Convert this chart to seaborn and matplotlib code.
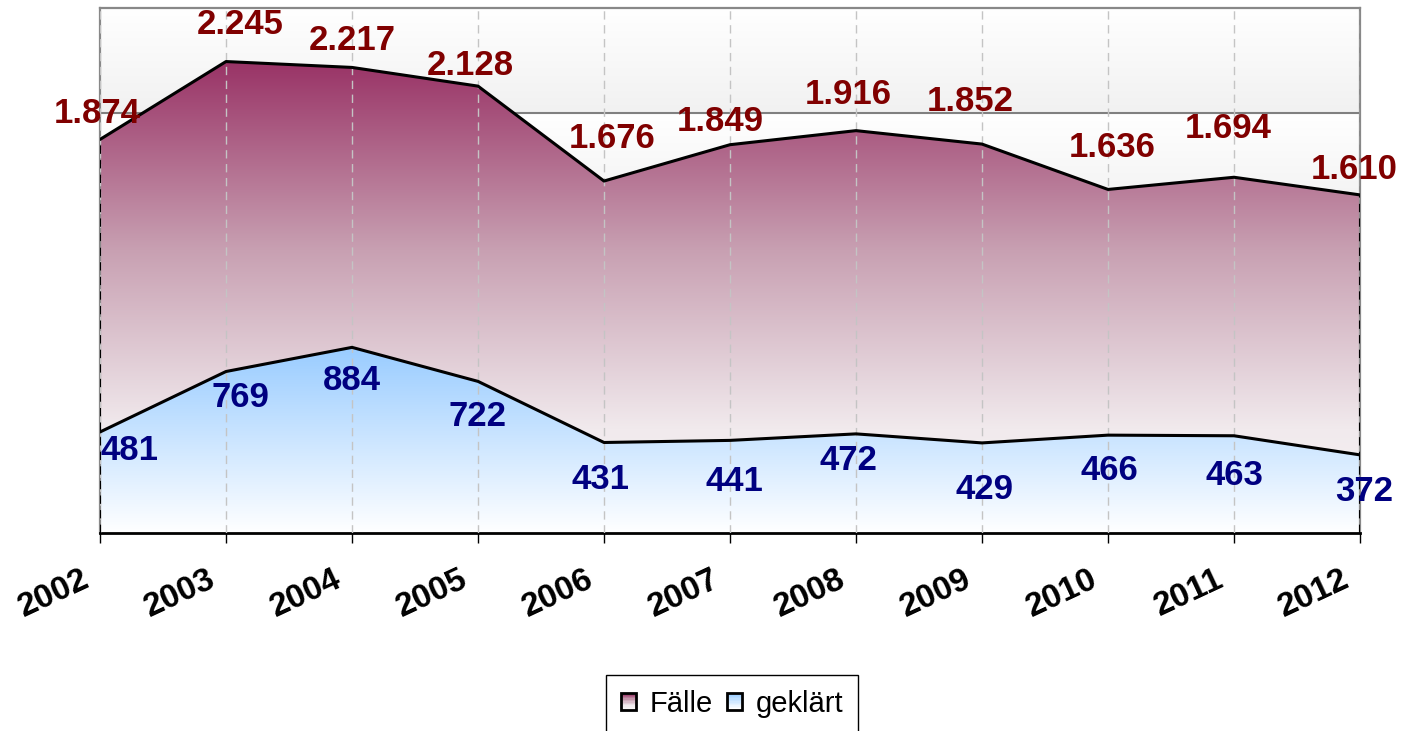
import numpy as np
import pandas as pd
import matplotlib
matplotlib.use('Agg')
import matplotlib.pyplot as plt
import matplotlib.transforms as mtransforms
import seaborn as sns
from matplotlib.colors import LinearSegmentedColormap
from matplotlib.patches import Rectangle, Patch
from matplotlib.legend_handler import HandlerBase

# data
years = [2002, 2003, 2004, 2005, 2006, 2007, 2008, 2009, 2010, 2011, 2012]
faelle = [1874, 2245, 2217, 2128, 1676, 1849, 1916, 1852, 1636, 1694, 1610]
geklaert = [481, 769, 884, 722, 431, 441, 472, 429, 466, 463, 372]
series_names = ['Fälle', 'geklärt']

# label offsets in pixels (label centre relative to the point)
faelle_offsets = [(-3, 26), (14, 37), (0, 27), (-8, 21), (8, 43), (-10, 23),
                  (-8, 36), (-12, 43), (4, 42), (-6, 49), (-6, 25)]
geklaert_offsets = [(30, -19), (14, -26), (0, -33), (0, -35), (-3, -37), (4, -41),
                    (-8, -27), (3, -47), (1, -35), (0, -40), (4, -37)]


def de_format(v):
    # german thousands separator
    return f"{v:,}".replace(',', '.')


class GradientHandler(HandlerBase):
    # legend square with vertical gradient + black border
    def __init__(self, cmap):
        super().__init__()
        self.cmap = cmap

    def create_artists(self, legend, orig_handle, xdescent, ydescent, width, height, fontsize, trans):
        arts = []
        n = 12
        for i in range(n):
            r = Rectangle((-xdescent, -ydescent + height * i / n), width, height / n,
                          facecolor=self.cmap(i / (n - 1)), lw=0, transform=trans)
            arts.append(r)
        arts.append(Rectangle((-xdescent, -ydescent), width, height, fill=False,
                              edgecolor='black', lw=2, transform=trans))
        return arts


sns.set_style('white')
plt.rcParams['font.family'] = ['Liberation Sans', 'DejaVu Sans']
plt.rcParams['text.color'] = 'black'

cmap_f = LinearSegmentedColormap.from_list(
    'faelle', [(0, '#f8f5f6'), (0.22, '#f1eaed'), (0.6, '#c8a0b2'), (1, '#993366')])
cmap_g = LinearSegmentedColormap.from_list('geklaert', ['#ffffff', '#99ccff'])
cmap_bg = LinearSegmentedColormap.from_list('bg', ['#f1f1f1', '#ffffff'])

df = pd.DataFrame({
    'Jahr': years * 2,
    'Anzahl': faelle + geklaert,
    'Serie': [series_names[0]] * len(years) + [series_names[1]] * len(years),
})

fig = plt.figure(figsize=(14.04, 7.31), dpi=100)
ax = fig.add_axes([100 / 1404, 198 / 731, 1260 / 1404, 525 / 731])

# plot area background, gradient per 500 band
ymax = 2500
yy = np.linspace(0, ymax, 1001)
band = 1 - ((ymax - yy) % 500) / 500
ax.imshow(band.reshape(-1, 1), origin='lower', aspect='auto', cmap=cmap_bg,
          extent=[years[0], years[-1], 0, ymax], zorder=0, vmin=0, vmax=1)
ax.axhline(2000, color='#808080', lw=1.5, zorder=1)

# gradient areas clipped to the fill polygons
for vals, cm, z in [(faelle, cmap_f, 1.2), (geklaert, cmap_g, 1.4)]:
    poly = ax.fill_between(years, 0, vals, facecolor='none', edgecolor='none')
    grad = np.linspace(0, 1, 256).reshape(-1, 1)
    im = ax.imshow(grad, origin='lower', aspect='auto', cmap=cm,
                   extent=[years[0], years[-1], 0, max(vals)], zorder=z)
    im.set_clip_path(poly.get_paths()[0], transform=ax.transData)

# outlines
sns.lineplot(data=df, x='Jahr', y='Anzahl', hue='Serie',
             palette={series_names[0]: 'black', series_names[1]: 'black'},
             linewidth=2.2, legend=False, ax=ax, zorder=3)
ax.vlines([years[0], years[-1]], 0, [faelle[0], faelle[-1]], colors='black',
          linestyles=(0, (4, 3)), lw=1.5, zorder=3)

ax.set_xlim(years[0], years[-1])
ax.set_ylim(0, ymax)
ax.set_xlabel('')
ax.set_ylabel('')
ax.set_yticks([])

# vertical dashed grid
ax.set_axisbelow(False)
ax.xaxis.grid(True, color='#c4c4c4', linestyle=(0, (6, 4)), lw=1)

for side in ['top', 'left', 'right']:
    ax.spines[side].set_color('#888888')
    ax.spines[side].set_linewidth(1.6)
ax.spines['bottom'].set_color('black')
ax.spines['bottom'].set_linewidth(2)

ax.set_xticks(years)
ax.set_xticklabels([str(y) for y in years], fontsize=24, fontweight='bold', color='black',
                   rotation=25, ha='right', rotation_mode='anchor')
ax.tick_params(axis='x', direction='out', length=7, width=1, color='black', pad=15, bottom=True)
shift = mtransforms.ScaledTranslation(-19 / 100, 0, fig.dpi_scale_trans)
for lbl in ax.get_xticklabels():
    lbl.set_transform(lbl.get_transform() + shift)

# value labels
for x, v, (dx, dy) in zip(years, faelle, faelle_offsets):
    ax.annotate(de_format(v), (x, v), xytext=(dx, dy), textcoords='offset pixels',
                ha='center', va='center', fontsize=25, fontweight='bold',
                color='#800000', annotation_clip=False, zorder=5)
for x, v, (dx, dy) in zip(years, geklaert, geklaert_offsets):
    ax.annotate(de_format(v), (x, v), xytext=(dx, dy), textcoords='offset pixels',
                ha='center', va='center', fontsize=25, fontweight='bold',
                color='#000080', annotation_clip=False, zorder=5)

# legend
h1 = Patch(label=series_names[0])
h2 = Patch(label=series_names[1])
leg = fig.legend(handles=[h1, h2], labels=series_names, loc='upper center',
                 bbox_to_anchor=(732 / 1404, 1 - 675 / 731), bbox_transform=fig.transFigure,
                 ncol=2, fontsize=21, frameon=True, fancybox=False, edgecolor='black',
                 framealpha=1, handlelength=0.52, handleheight=0.52, handletextpad=0.45,
                 columnspacing=0.5, borderpad=0.5, borderaxespad=0,
                 handler_map={h1: GradientHandler(cmap_f), h2: GradientHandler(cmap_g)})
leg.get_frame().set_linewidth(1)
for t in leg.get_texts():
    t.set_color('black')

fig.savefig('out.png', dpi=100)
